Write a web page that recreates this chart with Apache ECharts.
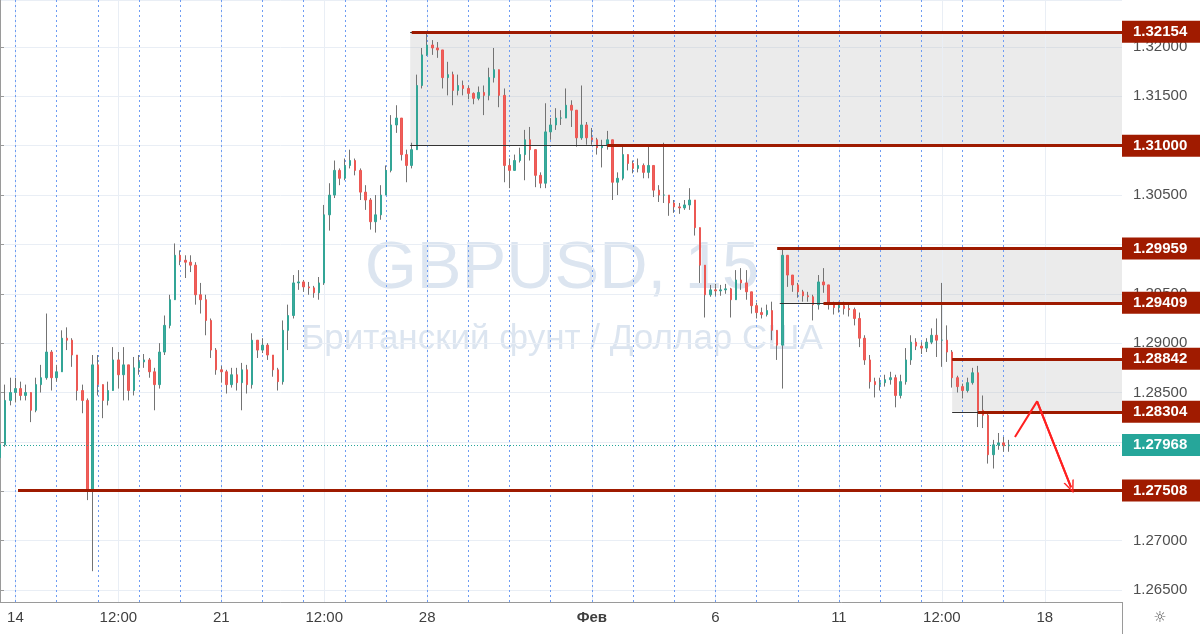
<!DOCTYPE html>
<html>
<head>
<meta charset="utf-8">
<script src="https://cdn.jsdelivr.net/npm/echarts@6/dist/echarts.min.js"></script>
<style>html,body{margin:0;padding:0;background:#fff}#c{width:1200px;height:634px}</style>
</head>
<body>
<div id="c"></div>
<script>
// ---- Data (3-hour slots; x = slot index, day "14" starts at slot 3, 8 slots per trading day) ----
const firstOpen = 1.2784;
const closes = [
 1.2797,1.2842,1.2850,1.2854,1.2847,1.2850,1.2832,1.2858,1.2865,1.2891,
 1.2865,1.2871,1.2905,1.2903,1.2888,1.2852,1.2842,1.2751,1.2878,1.2858,
 1.2842,1.2852,1.2883,1.2868,1.2878,1.2852,1.2875,1.2881,1.2883,1.2871,
 1.2858,1.2891,1.2918,1.2944,1.2989,1.2984,1.2982,1.2979,1.2949,1.2944,
 1.2923,1.2893,1.2873,1.2871,1.2858,1.2868,1.2860,1.2873,1.2858,1.2903,
 1.2893,1.2898,1.2888,1.2873,1.2861,1.2913,1.2928,1.2961,1.2962,1.2957,
 1.2956,1.2951,1.2961,1.3030,1.3050,1.3075,1.3067,1.3080,1.3085,1.3075,
 1.3053,1.3045,1.3023,1.3030,1.3050,1.3075,1.3121,1.3128,1.3091,1.3080,
 1.3096,1.3161,1.3192,1.3202,1.3199,1.3197,1.3169,1.3172,1.3156,1.3161,
 1.3158,1.3153,1.3148,1.3154,1.3151,1.3169,1.3177,1.3151,1.3080,1.3075,
 1.3085,1.3091,1.3106,1.3096,1.3070,1.3062,1.3114,1.3121,1.3128,1.3128,
 1.3141,1.3136,1.3108,1.3121,1.3108,1.3106,1.3098,1.3100,1.3106,1.3063,
 1.3067,1.3091,1.3082,1.3077,1.3080,1.3073,1.3080,1.3055,1.3050,1.3050,
 1.3042,1.3038,1.3037,1.3040,1.3045,1.3017,1.2979,1.2949,1.2954,1.2953,
 1.2954,1.2955,1.2944,1.2964,1.2961,1.2952,1.2938,1.2931,1.2929,1.2933,
 1.2913,1.2898,1.2989,1.2969,1.2959,1.2952,1.2948,1.2947,1.2939,1.2962,
 1.2959,1.2939,1.2936,1.2938,1.2935,1.2934,1.2925,1.2905,1.2883,1.2861,
 1.2858,1.2860,1.2863,1.2865,1.2847,1.2861,1.2883,1.2901,1.2897,1.2895,
 1.2901,1.2908,1.2903,1.2903,1.2891,1.2865,1.2856,1.2852,1.2860,1.2870,
 1.2832,1.2827,1.2787,1.2797,1.2799,1.2796,1.27968
];
const highs = [
 1.2804,1.2858,1.2865,1.2865,1.2861,1.2858,1.2850,1.2865,1.2878,1.2930,
 1.2893,1.2878,1.2913,1.2916,1.2905,1.2878,1.2858,1.2844,1.2888,1.2888,
 1.2858,1.2861,1.2896,1.2891,1.2896,1.2878,1.2886,1.2888,1.2889,1.2885,
 1.2875,1.2900,1.2928,1.2949,1.3001,1.2994,1.2989,1.2989,1.2982,1.2961,
 1.2949,1.2925,1.2895,1.2877,1.2873,1.2875,1.2875,1.2880,1.2878,1.2910,
 1.2903,1.2905,1.2900,1.2888,1.2875,1.2923,1.2939,1.2969,1.2974,1.2964,
 1.2962,1.2958,1.2967,1.3040,1.3062,1.3085,1.3077,1.3087,1.3096,1.3087,
 1.3077,1.3060,1.3047,1.3050,1.3060,1.3080,1.3131,1.3141,1.3128,1.3096,
 1.3103,1.3172,1.3199,1.3214,1.3207,1.3205,1.3197,1.3185,1.3175,1.3172,
 1.3166,1.3161,1.3154,1.3160,1.3161,1.3179,1.3199,1.3172,1.3158,1.3087,
 1.3091,1.3098,1.3116,1.3119,1.3091,1.3073,1.3143,1.3128,1.3138,1.3136,
 1.3158,1.3146,1.3134,1.3161,1.3124,1.3118,1.3108,1.3106,1.3115,1.3106,
 1.3073,1.3101,1.3091,1.3085,1.3087,1.3082,1.3099,1.3080,1.3060,1.3103,
 1.3050,1.3045,1.3042,1.3045,1.3057,1.3045,1.3017,1.2979,1.2959,1.2960,
 1.2959,1.2960,1.2956,1.2974,1.2976,1.2974,1.2952,1.2941,1.2936,1.2939,
 1.2942,1.2913,1.2996,1.2989,1.2969,1.2961,1.2954,1.2952,1.2949,1.2969,
 1.2976,1.2959,1.2942,1.2942,1.2942,1.2939,1.2936,1.2931,1.2908,1.2888,
 1.2865,1.2865,1.2868,1.2871,1.2868,1.2868,1.2895,1.2908,1.2905,1.2901,
 1.2905,1.2915,1.2925,1.2961,1.2918,1.2893,1.2867,1.2859,1.2865,1.2875,
 1.2877,1.2847,1.2829,1.2802,1.2809,1.2805,1.2802
];
const lows = [
 1.2775,1.2795,1.2837,1.2840,1.2842,1.2842,1.2820,1.2830,1.2850,1.2863,
 1.2852,1.2861,1.2871,1.2893,1.2876,1.2842,1.2829,1.2741,1.2669,1.2847,
 1.2824,1.2837,1.2852,1.2854,1.2842,1.2842,1.2847,1.2868,1.2875,1.2865,
 1.2832,1.2854,1.2888,1.2915,1.2944,1.2979,1.2966,1.2972,1.2939,1.2930,
 1.2908,1.2885,1.2868,1.2860,1.2849,1.2855,1.2852,1.2832,1.2849,1.2854,
 1.2885,1.2890,1.2883,1.2866,1.2852,1.2858,1.2893,1.2925,1.2954,1.2952,
 1.2949,1.2946,1.2944,1.2959,1.3014,1.3047,1.3060,1.3065,1.3077,1.3070,
 1.3045,1.3035,1.3015,1.3012,1.3025,1.3050,1.3073,1.3113,1.3085,1.3063,
 1.3077,1.3096,1.3158,1.3191,1.3192,1.3189,1.3158,1.3151,1.3141,1.3151,
 1.3151,1.3147,1.3142,1.3146,1.3131,1.3146,1.3164,1.3139,1.3063,1.3057,
 1.3075,1.3083,1.3065,1.3085,1.3058,1.3057,1.3057,1.3106,1.3116,1.3121,
 1.3131,1.3119,1.3099,1.3106,1.3101,1.3101,1.3091,1.3078,1.3096,1.3045,
 1.3050,1.3065,1.3075,1.3072,1.3073,1.3067,1.3067,1.3048,1.3043,1.3042,
 1.3029,1.3032,1.3031,1.3035,1.3035,1.3009,1.2961,1.2926,1.2947,1.2948,
 1.2948,1.2950,1.2926,1.2944,1.2954,1.2944,1.2930,1.2925,1.2925,1.2927,
 1.2903,1.2883,1.2854,1.2957,1.2952,1.2946,1.2942,1.2942,1.2923,1.2934,
 1.2951,1.2934,1.2929,1.2931,1.2929,1.2927,1.2918,1.2896,1.2878,1.2854,
 1.2845,1.2852,1.2856,1.2858,1.2835,1.2844,1.2858,1.2878,1.2893,1.2889,
 1.2891,1.2899,1.2886,1.2876,1.2881,1.2855,1.2850,1.2844,1.2850,1.2858,
 1.2815,1.2814,1.2778,1.2773,1.2792,1.2790,1.2790
];
const xTickValues = [3, 23, 43, 63, 83, 115, 139, 163, 183, 203];
const xTickLabels = ['14', '12:00', '21', '12:00', '28', 'Фев', '6', '11', '12:00', '18'];
const sessionStarts = [3,11,19,27,35,43,51,59,67,75,83,91,99,107,115,123,131,139,147,155,163,171,179,187,195];
const levelPrices = [1.32154, 1.31000, 1.29959, 1.29409, 1.28842, 1.28304, 1.27508];
const levelStarts = [80, 118, 151, 160, 185, 190, 3.5];
const zoneStarts = [79.7, 151.5, 185];
const zoneTops = [1.32154, 1.29959, 1.28842];
const zoneBottoms = [1.31000, 1.29409, 1.28304];
const lastPrice = 1.27968;
const arrowX = [197.2, 201.5, 208.1];
const arrowY = [1.2805, 1.2841, 1.2754];

// ---- Chart ----
const X_MAX = 218, Y_MIN = 1.26378, Y_MAX = 1.32476;
const opens = closes.map((c, i) => i === 0 ? firstOpen : closes[i - 1]);
const wickData = closes.map((c, i) => [i, opens[i], c, Math.min(lows[i], opens[i], c), Math.max(highs[i], opens[i], c)]);
const bodyData = closes.map((c, i) => [i, opens[i], c, Math.min(opens[i], c), Math.max(opens[i], c)]);

const FONT = 'Liberation Sans, Arial, sans-serif';
const RED = '#9e1a00';
const tagLabel = (bg) => ({
  show: true, position: 'end', distance: 0, formatter: '{b}',
  color: '#fff', fontWeight: 'bold', fontSize: 15, fontFamily: FONT, backgroundColor: bg,
  padding: [4, 20, 3, 11], lineHeight: 15
});

const levelLines = levelPrices.map((p, k) => [
  { name: p.toFixed(5), coord: [levelStarts[k], p] },
  { coord: [X_MAX, p] }
]);
const zoneEdgeLines = [];
zoneStarts.forEach((s, k) => {
  zoneEdgeLines.push([{ coord: [s, zoneTops[k]] }, { coord: [X_MAX, zoneTops[k]] }]);
  zoneEdgeLines.push([{ coord: [s, zoneBottoms[k]] }, { coord: [X_MAX, zoneBottoms[k]] }]);
});

const labelMap = {};
xTickValues.forEach((v, k) => labelMap[v] = xTickLabels[k]);

const chart = echarts.init(document.getElementById('c'), null, { renderer: 'canvas' });
chart.setOption({
  animation: false,
  backgroundColor: '#ffffff',
  textStyle: { fontFamily: FONT },
  grid: { left: 0, right: 78, top: 0, bottom: 32, containLabel: false },
  xAxis: {
    type: 'value', min: 0, max: X_MAX,
    axisLine: { show: true, onZero: false, lineStyle: { color: '#9a9a9a' } },
    axisTick: { show: false },
    splitLine: { show: false },
    axisLabel: {
      customValues: xTickValues,
      color: '#3f3f3f', fontSize: 15, margin: 8,
      formatter: v => labelMap[v] === 'Фев' ? '{b|Фев}' : (labelMap[v] || ''),
      rich: { b: { fontWeight: 'bold', fontSize: 15, color: '#3f3f3f' } }
    }
  },
  yAxis: {
    type: 'value', position: 'right', min: Y_MIN, max: Y_MAX, splitNumber: 12,
    axisLine: { show: true, lineStyle: { color: '#9a9a9a' } },
    axisTick: { show: true, length: 4, lineStyle: { color: '#9a9a9a' } },
    axisLabel: { color: '#4f4f4f', fontSize: 15, margin: 11, showMinLabel: false, showMaxLabel: false,
      formatter: v => v.toFixed(5) },
    splitLine: { show: true, lineStyle: { color: '#e9eef5' } }
  },
  graphic: [
    { type: 'text', z: 0, silent: true, style: { text: 'GBPUSD, 15', x: 562, y: 270, align: 'center', verticalAlign: 'middle',
      fontSize: 67, fontFamily: FONT, fill: '#dce5f0' } },
    { type: 'text', z: 0, silent: true, style: { text: 'Британский фунт / Доллар США', x: 562, y: 339, align: 'center', verticalAlign: 'middle',
      fontSize: 35, fontFamily: FONT, fill: '#dce5f0' } },
    { type: 'text', z: 10, silent: true, style: { text: '☼', x: 1160, y: 618, align: 'center', verticalAlign: 'middle',
      fontSize: 15, fontFamily: 'DejaVu Sans', fill: '#555' } },
    { type: 'line', z: 10, silent: true, shape: { x1: 1122.5, y1: 602, x2: 1122.5, y2: 634 }, style: { stroke: '#9a9a9a', lineWidth: 1 } }
  ],
  series: [
    {
      name: 'zones', type: 'line', data: [], silent: true,
      markArea: {
        silent: true, z: 1,
        itemStyle: { color: 'rgba(190,190,190,0.3)' },
        data: zoneStarts.map((s, k) => [{ coord: [s, zoneTops[k]] }, { coord: [X_MAX, zoneBottoms[k]] }])
      }
    },
    {
      name: 'grid-v', type: 'line', data: [], silent: true,
      markLine: {
        silent: true, symbol: 'none', z: 1, animation: false,
        label: { show: false },
        data: [
          ...xTickValues.map(v => ({ xAxis: v, lineStyle: { color: '#e9eef5', width: 1, type: 'solid' } })),
          ...sessionStarts.map(v => ({ xAxis: v, lineStyle: { color: '#6e9cf3', width: 1, type: [2, 3] } }))
        ]
      }
    },
    {
      name: 'wicks', type: 'candlestick', data: wickData, barWidth: 1, z: 2, silent: true,
      itemStyle: { color: '#737373', color0: '#737373', borderColor: '#737373', borderColor0: '#737373', borderWidth: 1 }
    },
    {
      name: 'GBPUSD', type: 'candlestick', data: bodyData, barWidth: 2, z: 3, silent: true,
      itemStyle: { color: '#3aab9d', color0: '#ef5f5b', borderColor: '#33a596', borderColor0: '#ec5853', borderWidth: 1 }
    },
    {
      name: 'levels', type: 'line', data: [], silent: true,
      markLine: {
        silent: true, symbol: 'none', z: 5, animation: false,
        data: [
          ...zoneEdgeLines.map(d => [Object.assign({ lineStyle: { color: '#333', width: 1, type: 'solid' }, label: { show: false } }, d[0]), d[1]]),
          [{ name: lastPrice.toFixed(5), coord: [0, lastPrice], lineStyle: { color: '#26a69a', width: 1, type: [1, 2] }, label: tagLabel('#26a69a') }, { coord: [X_MAX, lastPrice] }],
          ...levelLines.map(d => [Object.assign({ lineStyle: { color: RED, width: 3, type: 'solid' }, label: tagLabel('#a01b00') }, d[0]), d[1]])
        ]
      }
    },
    {
      name: 'arrow', type: 'line', silent: true, z: 6, symbol: 'none',
      data: arrowX.map((x, k) => [x, arrowY[k]]),
      lineStyle: { color: '#ff2020', width: 2 },
      markLine: {
        silent: true, z: 6, animation: false,
        symbol: ['none', 'path://M0,12 L5,0 L10,12 L8.6,12 L5,3.2 L1.4,12 Z'], symbolSize: [11, 13],
        lineStyle: { color: '#ff2020', width: 2, type: 'solid' },
        label: { show: false },
        data: [[{ coord: [arrowX[1], arrowY[1]] }, { coord: [arrowX[2], arrowY[2]] }]]
      }
    }
  ]
});
</script>
</body>
</html>
